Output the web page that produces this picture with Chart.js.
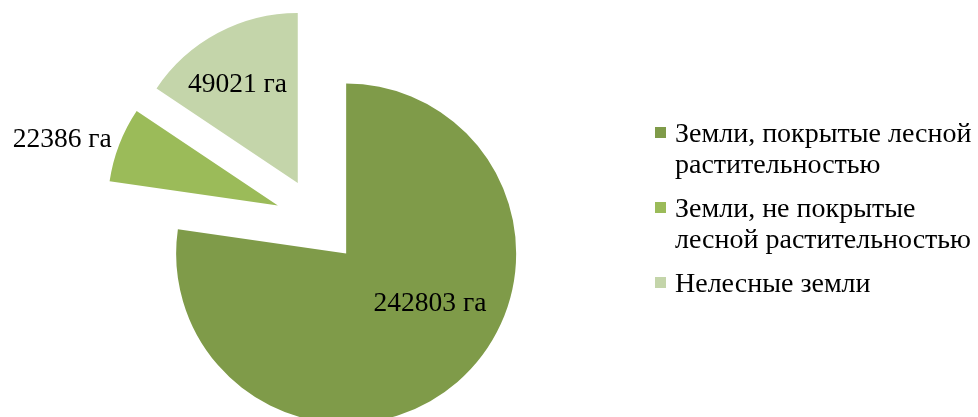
<!DOCTYPE html>
<html>
<head>
<meta charset="utf-8">
<script src="https://cdn.jsdelivr.net/npm/chart.js@4"></script>
<style>
    html, body { margin: 0; padding: 0; background: #fff; }
    #wrap { position: relative; width: 978px; height: 417px; overflow: hidden; }
    #legend {
        position: absolute; left: 655px; top: 117px;
        font-family: "Liberation Serif", "Times New Roman", serif;
        font-size: 28px; line-height: 31px; color: #000;
    }
    .item { position: relative; padding-left: 20px; margin-bottom: 13px; white-space: nowrap; }
    .box { position: absolute; left: 0; top: 10px; width: 11px; height: 11px; }
</style>
</head>
<body>
<div id="wrap">
    <canvas id="landChart"></canvas>
    <div id="legend"></div>
</div>
<script>
// Данные (га)
const categories = [
    ['Земли, покрытые лесной', 'растительностью'],
    ['Земли, не покрытые', 'лесной растительностью'],
    ['Нелесные земли']
];
const areas = [242803, 22386, 49021];
const unit = 'га';

const colors = ['#7f9b49', '#9bbb59', '#c4d5aa'];

// Выдвижение секторов и положение подписей
const explode = 43;
const labelAngle = [0.435, 0.52, 0.44];
const labelRadius = [0.575, 1.05, 0.68];
const labelAlign = ['center', 'right', 'center'];

const explodePlugin = {
    id: 'explode',
    afterUpdate(chart) {
        chart.getDatasetMeta(0).data.forEach(arc => {
            const mid = (arc.startAngle + arc.endAngle) / 2;
            arc.x += Math.cos(mid) * explode;
            arc.y += Math.sin(mid) * explode;
        });
    }
};

const valueLabels = {
    id: 'valueLabels',
    afterDatasetsDraw(chart) {
        const ctx = chart.ctx;
        ctx.save();
        ctx.font = '27.5px "Liberation Serif", "Times New Roman", serif';
        ctx.fillStyle = '#000';
        ctx.textBaseline = 'middle';
        chart.getDatasetMeta(0).data.forEach((arc, i) => {
            const a = arc.startAngle + (arc.endAngle - arc.startAngle) * labelAngle[i];
            const r = arc.outerRadius * labelRadius[i];
            ctx.textAlign = labelAlign[i];
            ctx.fillText(areas[i] + ' ' + unit, arc.x + Math.cos(a) * r, arc.y + Math.sin(a) * r);
        });
        ctx.restore();
    }
};

const ctx = document.getElementById('landChart').getContext('2d');
const chart = new Chart(ctx, {
    type: 'pie',
    data: {
        labels: categories,
        datasets: [{
            data: areas,
            backgroundColor: colors,
            borderWidth: 0,
            radius: 170,
            clip: false
        }]
    },
    options: {
        responsive: true,
        maintainAspectRatio: false,
        animation: false,
        layout: { padding: { top: 25, right: 342, bottom: 0, left: 0 } },
        plugins: {
            legend: { display: false },
            tooltip: {
                callbacks: {
                    label: item => `${item.raw} ${unit}`
                }
            }
        }
    },
    plugins: [explodePlugin, valueLabels]
});

// Легенда справа
const legend = document.getElementById('legend');
categories.forEach((lines, i) => {
    const item = document.createElement('div');
    item.className = 'item';
    item.innerHTML = `<span class="box" style="background:${colors[i]}"></span>` + lines.join('<br>');
    legend.appendChild(item);
});
</script>
</body>
</html>
